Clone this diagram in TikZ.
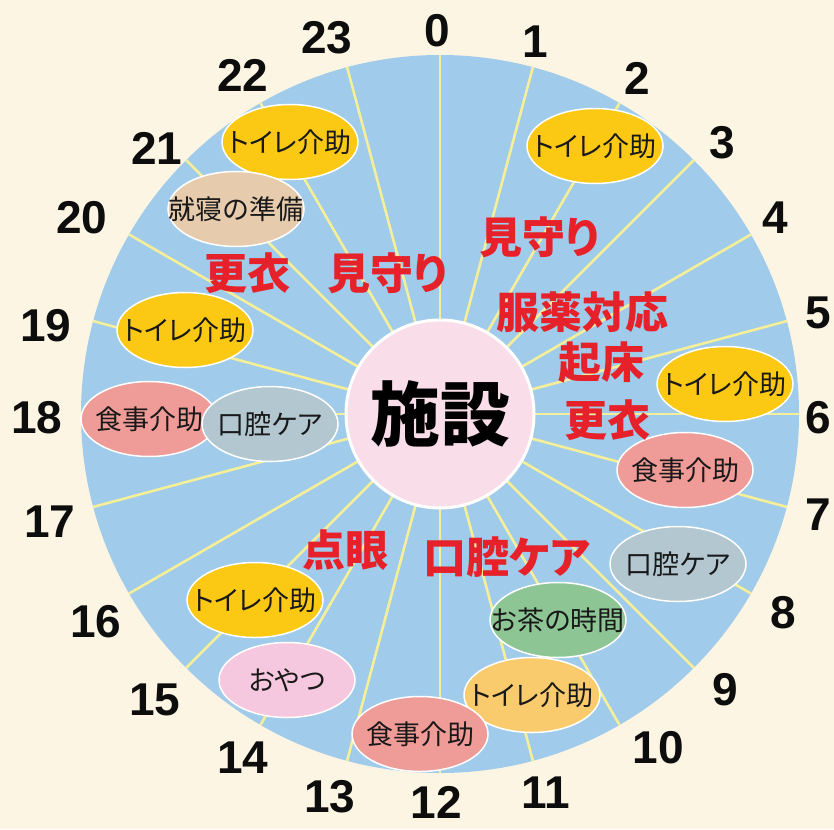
\documentclass[tikz,border=0pt]{standalone}
\usepackage{fontspec}
\setmainfont{Liberation Sans}
\newfontfamily\jp{Noto Sans CJK JP}[RawFeature=+palt]
\usetikzlibrary{shapes.geometric}
\definecolor{bgc}{HTML}{FCF5E3}
\definecolor{dialc}{HTML}{A0CBEA}
\definecolor{spokec}{HTML}{F6EF99}
\definecolor{hubc}{HTML}{F9DDE8}
\definecolor{yelc}{HTML}{FBC814}
\definecolor{tanc}{HTML}{E6CBAD}
\definecolor{salc}{HTML}{EF9B98}
\definecolor{grayc}{HTML}{B3C7D1}
\definecolor{grnc}{HTML}{8DC595}
\definecolor{orgc}{HTML}{FACB6D}
\definecolor{pnkc}{HTML}{F6C8DF}
\definecolor{redc}{HTML}{E62129}
\newcommand{\bt}[1]{\makebox[0pt]{\raisebox{-0.38em}[0pt][0pt]{#1}}}
\tikzset{
  spoke/.style={draw=spokec, line width=2.6pt},
  bub/.style={ellipse, draw=white, line width=1.5pt, minimum width=136pt, minimum height=75pt, inner sep=0pt, text=black!90, font=\jp\fontsize{27}{27}\selectfont},
  redt/.style={inner sep=0pt, text=redc, font=\jp\bfseries\fontsize{43}{43}\selectfont},
  num/.style={inner sep=0pt, text=black!95, font=\bfseries\fontsize{46}{46}\selectfont}
}
\begin{document}
\begin{tikzpicture}[x=1pt,y=-1pt]
\fill[bgc] (0,0) rectangle (834,829);
\useasboundingbox (0,0) rectangle (834,829);
\coordinate (c) at (440,414);
\node[circle, fill=dialc, minimum size=718pt, inner sep=0pt] (dial) at (c) {};
\foreach \h in {0,...,23}{
  \pgfmathtruncatemacro\a{90-15*\h}
  \draw[spoke] (c) -- (dial.\a);
}
\node[circle, fill=hubc, draw=white, line width=3pt, minimum size=188pt, inner sep=0pt, font=\jp\bfseries\fontsize{70}{70}\selectfont] (hub) at (c) {施設};
% bubbles
\node[bub, fill=yelc] (b22) at (290,142) {\bt{トイレ介助}};
\node[bub, fill=tanc] (b21) at (236,209) {\bt{就寝の準備}};
\node[bub, fill=yelc] (b2) at (595,146) {\bt{トイレ介助}};
\node[bub, fill=yelc] (b19) at (185,330) {\bt{トイレ介助}};
\node[bub, fill=salc] (b18a) at (149,419) {\bt{食事介助}};
\node[bub, fill=grayc] (b18b) at (270,424) {\bt{口腔ケア}};
\node[bub, fill=yelc] (b6) at (725,384) {\bt{トイレ介助}};
\node[bub, fill=salc] (b7) at (685,470) {\bt{食事介助}};
\node[bub, fill=grayc] (b8) at (678,564) {\bt{口腔ケア}};
\node[bub, fill=grnc] (b10) at (558,620) {\bt{お茶の時間}};
\node[bub, fill=orgc] (b11) at (532,695) {\bt{トイレ介助}};
\node[bub, fill=salc] (b12) at (420,734) {\bt{食事介助}};
\node[bub, fill=pnkc] (b14) at (287,680) {\bt{おやつ}};
\node[bub, fill=yelc] (b16) at (255,600) {\bt{トイレ介助}};
% red labels
\node[redt] (r1) at (539,237) {見守り};
\node[redt] (r2) at (582,312) {服薬対応};
\node[redt] (r3) at (601,362) {起床};
\node[redt] (r4) at (607,420) {更衣};
\node[redt] (r5) at (247,273) {更衣};
\node[redt] (r6) at (387,273) {見守り};
\node[redt] (r7) at (345,550) {点眼};
\node[redt] (r8) at (507,557) {口腔ケア};
% hour numbers
\node[num] (n0) at (437,31) {0};
\node[num] (n1) at (535,42) {1};
\node[num] (n2) at (637,78) {2};
\node[num] (n3) at (722,143) {3};
\node[num] (n4) at (775,218) {4};
\node[num] (n5) at (818,313) {5};
\node[num] (n6) at (818,418) {6};
\node[num] (n7) at (818,515) {7};
\node[num] (n8) at (783,613) {8};
\node[num] (n9) at (725,690) {9};
\node[num] (n10) at (658,748) {10};
\node[num] (n11) at (546,793) {11};
\node[num] (n12) at (436,802) {12};
\node[num] (n13) at (330,797) {13};
\node[num] (n14) at (243,758) {14};
\node[num] (n15) at (155,700) {15};
\node[num] (n16) at (96,622) {16};
\node[num] (n17) at (50,522) {17};
\node[num] (n18) at (37,418) {18};
\node[num] (n19) at (46,326) {19};
\node[num] (n20) at (82,218) {20};
\node[num] (n21) at (157,148) {21};
\node[num] (n22) at (243,75) {22};
\node[num] (n23) at (327,38) {23};
\end{tikzpicture}
\end{document}
